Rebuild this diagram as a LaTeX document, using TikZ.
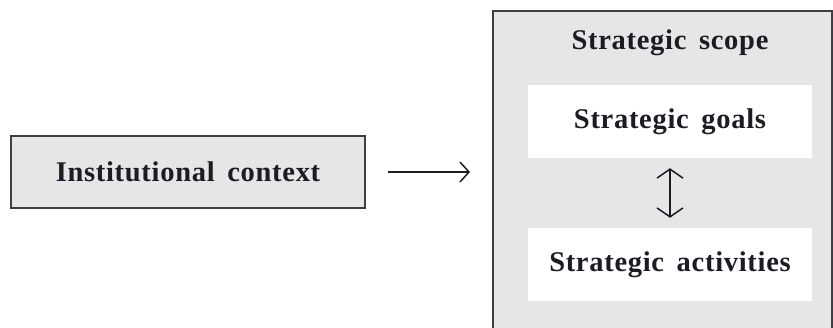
\documentclass[tikz,border=0pt]{standalone}
\usepackage{fontspec}
\setmainfont{Liberation Serif}[LetterSpace=2.5, WordSpace=1.6]
\usetikzlibrary{arrows.meta}
\definecolor{panel}{HTML}{E6E6E6}
\definecolor{ink}{HTML}{1C1C24}
\tikzset{
  graybox/.style={draw=ink!85, line width=1.1pt, fill=panel},
  whitebox/.style={fill=white, draw=none},
  lbl/.style={font=\bfseries\fontsize{28.5}{32}\selectfont, text=ink},
  barb/.style={-{Straight Barb[length=9pt, width=20pt, line width=1.5pt]}, line width=1.5pt, draw=ink},
  dbarb/.style={{Straight Barb[length=9pt, width=26pt, line width=1.5pt]}-{Straight Barb[length=9pt, width=26pt, line width=1.5pt]}, line width=1.5pt, draw=ink}
}
\begin{document}
\begin{tikzpicture}[x=1pt, y=-1pt]
  \useasboundingbox (0,0) rectangle (833,327);
  % left box
  \node[graybox, minimum width=354pt, minimum height=72pt, lbl] (ctx) at (188,172) {Institutional context};
  % right panel (runs past the bottom of the page)
  \draw[graybox] (493,11) rectangle (832,345);
  \coordinate (panelin) at (493,172);
  \node[lbl] (scope) at (670,43) {Strategic scope};
  \node[whitebox, minimum width=284pt, minimum height=73pt, lbl] (goals) at (670,121.5) {Strategic goals};
  \node[whitebox, minimum width=284pt, minimum height=73pt, lbl] (acts) at (670,264.5) {Strategic activities};
  % connectors
  \draw[barb] ([xshift=22pt]ctx.east) -- ([xshift=-23pt]panelin);
  \draw[dbarb] ([yshift=-10pt]goals.south) -- ([yshift=10pt]acts.north);
\end{tikzpicture}
\end{document}
